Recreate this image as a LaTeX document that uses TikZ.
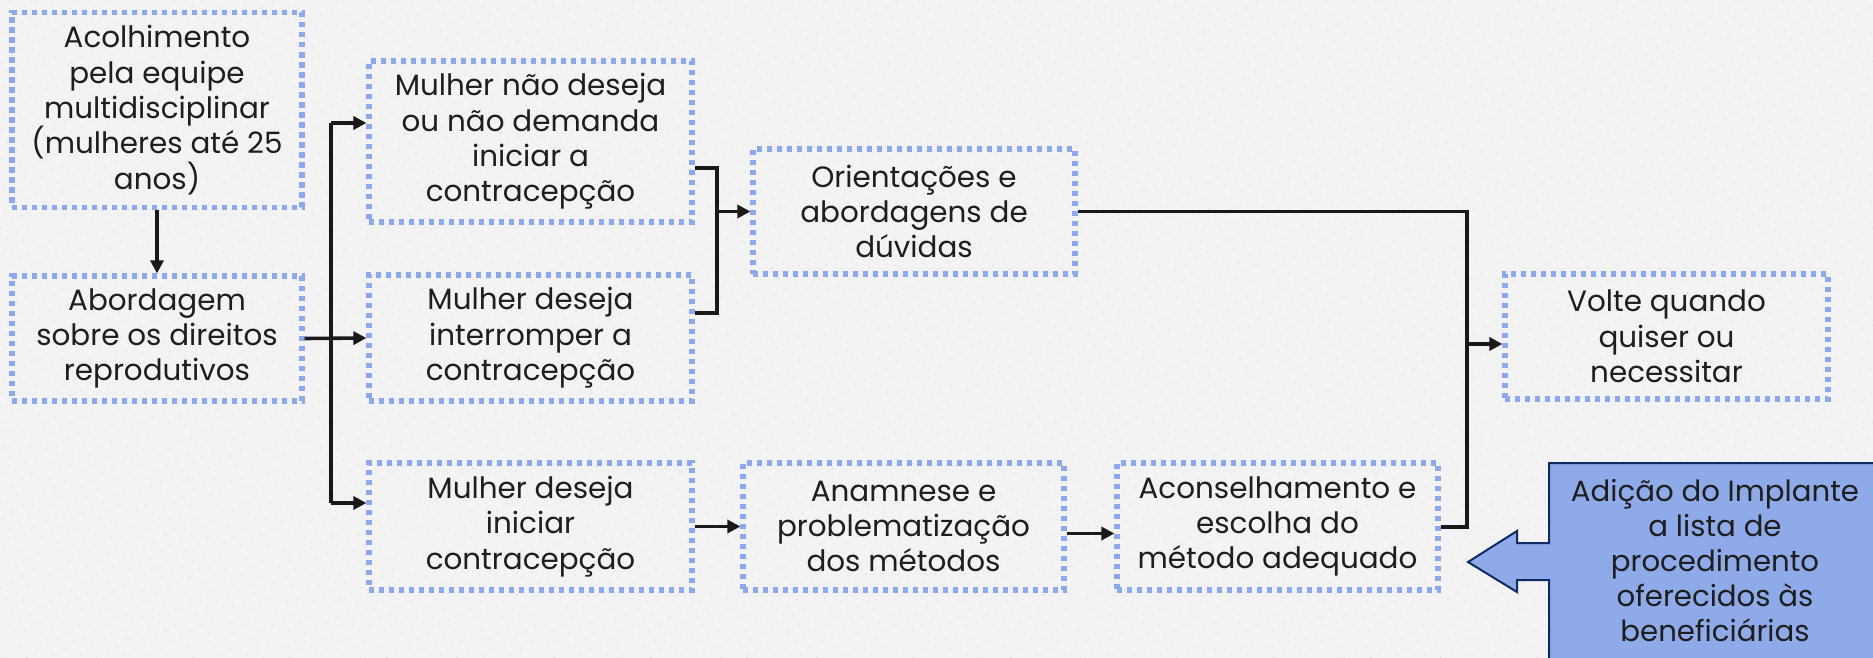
\documentclass[tikz,border=0pt]{standalone}
\usepackage{fontspec}
\setmainfont{Poppins}
\usetikzlibrary{arrows.meta,calc,patterns.meta}
\lineskiplimit=-30pt
\lineskip=0pt
\definecolor{bgc}{HTML}{F3F3F3}
\definecolor{dotc}{HTML}{E2E2E2}
\definecolor{boxc}{HTML}{8CA8F0}
\definecolor{txtc}{HTML}{1E1E1E}
\definecolor{callfill}{HTML}{8FAAE8}
\definecolor{calldraw}{HTML}{0D2A63}
\tikzset{
  fbox/.style={draw=boxc, line width=2.6pt, dash pattern=on 2.6pt off 2.4pt, inner sep=0pt, align=center,
    text=txtc, font=\fontsize{14.7}{17.7}\selectfont},
  conn/.style={line width=1.8pt, black!90},
  arr/.style={conn, -{Triangle[length=6.5pt,width=6.5pt]}},
}
\begin{document}
\begin{tikzpicture}[x=0.5pt,y=-0.5pt]
\useasboundingbox (0,0) rectangle (1873,658);
\fill[bgc] (0,0) rectangle (1873,658);
\fill[pattern={Dots[distance=6pt, radius=0.45pt, angle=30]}, pattern color=dotc] (0,0) rectangle (1873,658);
\clip (0,0) rectangle (1873,658);

\node[fbox, minimum width=145pt, minimum height=97.5pt] (A) at (157,110) {Acolhimento\\pela equipe\\multidisciplinar\\(mulheres até 25\\anos)};
\node[fbox, minimum width=145pt, minimum height=62.5pt] (B) at (157,338.5) {Abordagem\\sobre os direitos\\reprodutivos};
\node[fbox, minimum width=161.5pt, minimum height=80.5pt] (C) at (530.5,141.5) {Mulher não deseja\\ou não demanda\\iniciar a\\contracepção};
\node[fbox, minimum width=161.5pt, minimum height=63pt] (D) at (530.5,338) {Mulher deseja\\interromper a\\contracepção};
\node[fbox, minimum width=161pt, minimum height=62.5pt] (E) at (914,211.5) {Orientações e\\abordagens de\\dúvidas};
\node[fbox, minimum width=161.5pt, minimum height=62.5pt] (F) at (1666.5,336.5) {Volte quando\\quiser ou\\necessitar};
\node[fbox, minimum width=161.5pt, minimum height=63.5pt] (G) at (530.5,526.5) {Mulher deseja\\iniciar\\contracepção};
\node[fbox, minimum width=160.5pt, minimum height=63.5pt] (H) at (903.5,526.5) {Anamnese e\\problematização\\dos métodos};
\node[fbox, minimum width=160.5pt, minimum height=63.5pt] (I) at (1277.5,526.5) {Aconselhamento e\\escolha do\\método adequado};

% callout arrow
\draw[calldraw, fill=callfill, line width=1pt]
  (1549,463) -- (1890,463) -- (1890,680) -- (1549,680) -- (1549,580) -- (1517,580) -- (1517,592)
  -- (1468,562) -- (1517,531) -- (1517,543) -- (1549,543) -- cycle;
\node[align=center, text=txtc, font=\fontsize{14.6}{17.5}\selectfont] (K) at (1715,561)
  {Adição do Implante\\a lista de\\procedimento\\oferecidos às\\beneficiárias};

% connectors
\draw[arr] (A.south) -- (B.north);
\coordinate (s1) at (331,123);
\coordinate (s3) at (331,503);
\draw[conn] (s1) -- (s3);
\draw[arr] (s1) -- (s1 -| C.west);
\draw[arr] (B.east) -- (D.west);
\draw[arr] (s3) -- (s3 -| G.west);

\coordinate (j1) at (717,168);
\coordinate (j2) at (717,313);
\coordinate (j3) at (717,211.5);
\draw[conn] (j1 -| C.east) -- (j1) -- (j2) -- (j2 -| D.east);
\draw[arr] (j3) -- (E.west);

\coordinate (k1) at (1467,211.5);
\coordinate (k2) at (1467,527);
\coordinate (k3) at (1467,344);
\draw[conn] (E.east) -- (k1) -- (k2) -- (k2 -| I.east);
\draw[arr] (k3) -- (k3 -| F.west);

\draw[arr] (G.east) -- (H.west);
\draw[arr] ([yshift=-3.5pt]H.east) -- ([yshift=-3.5pt]I.west);
\end{tikzpicture}
\end{document}
